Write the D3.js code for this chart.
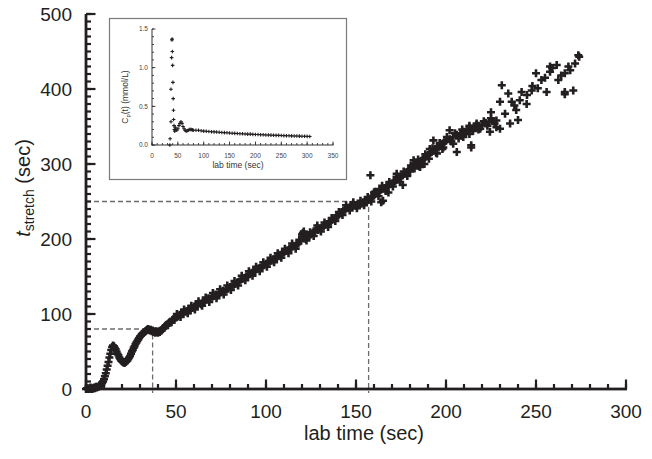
<!DOCTYPE html>
<html>
<head>
<meta charset="utf-8">
<script src="https://cdn.jsdelivr.net/npm/d3@7"></script>
<style>
body{margin:0;background:#fff;}
svg{display:block;font-family:"Liberation Sans",Arial,sans-serif;}
</style>
</head>
<body>
<svg id="chart" width="652" height="459"></svg>
<script>
// main plot: t_stretch vs lab time
const onsetPts = [
  [0,0],[0.5,1],[1,0],[1.5,1],[2,0],[2.5,2],[3,1],[3.5,0],[4,1],[4.5,2],[5,1],[5.5,3],[6,2],[6.5,3],[7,3],[7.5,5],
  [8,6],[8.5,5],[9,8],[9.5,10],[10,13],[10.5,17],[11,21],[11.5,26],[12,31],[12.5,36],[13,42],[13.5,47],[14,52],
  [14.5,56],[15,58],[15.5,57],[16,55],[16.5,53],[17,50],[17.5,47],[18,45],[18.5,42],[19,40],[19.5,38],[20,37],
  [20.5,36],[21,35],[21.5,35],[22,36],[22.5,37],[23,38],[23.5,40],[24,42],[24.5,44],[25,47],[25.5,50],[26,52],
  [26.5,55],[27,57],[27.5,60],[28,62],[28.5,64],[29,66],[29.5,68],[30,70],[30.5,71],[31,73],[31.5,74],[32,75],
  [32.5,76],[33,77],[33.5,78],[34,79],[34.5,80],[35,79],[35.5,78],[36,79],[36.5,77],[37,78],[37.5,76],[38,77],
  [38.5,75],[39,77],[39.5,76],[40,75],[40.5,77],[41,76],[41.5,78],[42,78],[42.5,80],[43,81],[43.5,82],[44,84],
  [44.5,85],[45,86],[45.5,85],[46,88],[46.5,89],[47,90],[47.5,89],[48,92],[48.5,93],[49,92],[49.5,95]
];
const linearPts = [
  [50,96],[51,97],[52,99],[53,101],[54,100],[55,103],[56,104],[57,106],[58,105],[59,108],[60,110],[61,111],
  [62,112],[63,114],[64,113],[65,116],[66,118],[67,119],[68,121],[69,120],[70,123],[71,124],[72,126],[73,125],
  [74,128],[75,129],[76,131],[77,130],[78,133],[79,134],[80,136],[81,137],[82,139],[83,140],[84,142],[85,143],
  [86,146],[87,147],[88,148],[89,150],[90,152],[91,153],[92,155],[93,156],[94,157],[95,160],[96,161],[97,162],
  [98,164],[99,165],[100,167],[101,168],[102,170],[103,171],[104,173],[105,174],[106,176],[107,177],[108,179],
  [109,180],[110,182],[111,184],[112,185],[113,187],[114,188],[115,190],[116,191],[117,193],[118,194],[119,197],
  [120,206],[121,204],[122,200],[123,203],[124,204],[125,206],[126,208],[127,210],[128,214],[129,212],[130,214],
  [131,215],[132,217],[133,219],[134,220],[135,222],[136,223],[137,226],[138,228],[139,229],[140,231],[141,234],
  [142,236],[143,238],[144,239],[145,241],[146,242],[147,243],[148,244],[149,245],[150,244],[151,245],[152,246],
  [153,247],[154,249],[155,250],[156,251],[157,252],[158,254],[159,256],[160,258],[161,261],[162,262],[163,264],
  [164,266],[165,267],[166,268],[167,270],[168,271],[169,273],[170,274],[171,276],[172,278],[173,279],[174,281],
  [175,283],[176,285],[177,287],[178,289],[179,291],[180,293],[181,296],[182,300],[183,299],[184,301],[185,297],
  [186,304],[187,306],[188,308],[189,310],[190,312],[191,314],[192,316],[193,318],[194,320],[195,322],[196,323],
  [197,325],[198,327],[199,329],[200,331],[202,333],[204,336],[206,339],[208,341],[210,343],[212,346],[214,347],
  [216,349],[218,351],[220,352],[222,355],[224,356],[226,357],[228,358]
];
// points that spread the band above and below its centre
const bandPts = [
  [50.5,100],[52.5,96],[54.5,106],[56.5,101],[58.5,111],[60.5,106],[62.5,117],[64.5,111],[66.5,122],[68.5,116],
  [70.5,128],[72.5,121],[74.5,133],[76.5,126],[78.5,138],[80.5,132],[82.5,144],[84.5,138],[86.5,151],[88.5,145],
  [90.5,157],[92.5,151],[94.5,163],[96.5,157],[98.5,169],[100.5,163],[102.5,175],[104.5,169],[106.5,181],
  [108.5,175],[110.5,187],[112.5,181],[114.5,194],[116.5,187],[118.5,199],[120.5,208],[122.5,198],[124.5,209],
  [126.5,204],[128.5,218],[130.5,210],[132.5,222],[134.5,216],[136.5,228],[138.5,224],[140.5,236],[142.5,232],
  [144.5,245],[146.5,238],[148.5,249],[150.5,241],[152.5,251],[154.5,245],[156.5,256],[158.5,250],[160.5,263],
  [162.5,257],[164.5,271],[166.5,264],[168.5,276],[170.5,270],[172.5,283],[174.5,276],[176.5,290],[178.5,284],
  [180.5,298],[182.5,294],[184.5,306],[186.5,300],[188.5,313],[190.5,307],[192.5,321],[194.5,315],[196.5,328],
  [198.5,322],[200.5,336],[203,330],[205,341],[207,334],[209,346],[211,340],[213,351],[215,344],[217,354],
  [219,347],[221,357],[223,351],[225,361],[227,354]
];
const scatterPts = [
  [121,210],[158,285],[160,262],[161.5,263],[164,249],[165,251],[168,262],[172.6,287],[176,272],[180,290],
  [182,305],[185.6,296],[188,300],[191,320],[193,331.5],[195,314],[198,320],[202,345],[204,327],[206,316],
  [209,338],[209.6,336],[213,340],[214,325],[217,352],[213,349],[214,322],[218,346],[222,354],[224.4,343],
  [225,369],[228,349],[230,347],[230,383],[231,405],[232.8,367],[234.6,394],[235.6,354],[236.5,383],[238,378],
  [239,372],[240,358.6],[241,385],[242,396],[244.8,380],[245,392],[247.6,398],[248,404],[250,421],[251,401],
  [253,412],[255,415],[255.9,396],[257.8,423],[257.8,430],[259,428],[261.5,432],[262.4,412],[264,418],[266,421],
  [268,430],[269,425],[266,393],[266,396],[270.7,398],[271.7,434],[273.5,445],[274,443]
];
// reference levels marked with dashed lines
const guideTimes = [37, 157];
const guideStretch = [80, 250];
const xTicks = [0, 50, 100, 150, 200, 250, 300];
const yTicks = [0, 100, 200, 300, 400, 500];

// inset: Cp(t) vs lab time
const cpPts = [
  [34.5,0.0],[35,0.08],[36.7,0.30],[36.6,0.72],[37.9,1.13],[38.5,1.36],[39,1.37],[39.3,1.21],[39.9,1.03],
  [40.5,0.81],[41,0.60],[41.5,0.45],[41.8,0.33],[42.6,0.25],[43.2,0.20],[44,0.18],[45,0.23],[46,0.20],[48,0.19],
  [50,0.21],[52,0.25],[54,0.28],[56,0.30],[58,0.28],[60,0.24],[62,0.21],[64,0.19],[66,0.18],[68,0.185],[70,0.19],
  [72,0.20],[74,0.20],[76,0.20],[78,0.195],[80,0.19],[85,0.19],[90,0.19],[95,0.185],[100,0.18],[105,0.178],
  [110,0.175],[115,0.172],[120,0.17],[125,0.168],[130,0.165],[135,0.162],[140,0.16],[145,0.158],[150,0.155],
  [155,0.152],[160,0.15],[165,0.148],[170,0.146],[175,0.145],[180,0.143],[185,0.141],[190,0.14],[195,0.138],
  [200,0.136],[205,0.135],[210,0.133],[215,0.132],[220,0.13],[225,0.129],[230,0.128],[235,0.126],[240,0.125],
  [245,0.124],[250,0.122],[255,0.121],[260,0.12],[265,0.119],[270,0.118],[275,0.117],[280,0.116],[285,0.115],
  [290,0.114],[295,0.113],[300,0.112],[305,0.11]
];
const insetXTicks = [0, 50, 100, 150, 200, 250, 300, 350];
const insetYTicks = [0, 0.5, 1.0, 1.5];

const svg = d3.select('#chart');
const ink = '#231f20';
const insetInk = '#333';

const x = d3.scaleLinear().domain([0, 300]).range([86, 626]);
const y = d3.scaleLinear().domain([0, 500]).range([389, 14]);
const ix = d3.scaleLinear().domain([0, 350]).range([152, 333]);
const iy = d3.scaleLinear().domain([0, 1.5]).range([145, 29]);

// dashed guides
guideTimes.forEach((t, i) => {
  svg.append('path')
    .attr('d', `M${x(0)},${y(guideStretch[i])}H${x(t)}V${y(0) + 4}`)
    .attr('fill', 'none')
    .attr('stroke', '#6d6d6d')
    .attr('stroke-width', 1.3)
    .attr('stroke-dasharray', '5,3');
});

// axis ticks as small filled rects (inward-pointing)
function tickRects(xs, ys, o) {
  const x0 = xs.range()[0], y0 = ys.range()[0], w = o.w;
  const r = [];
  xs.ticks(o.xMinor).forEach(v => r.push([xs(v) - w / 2, y0 - o.minor, w, o.minor]));
  o.xMajor.forEach(v => r.push([xs(v) - w / 2, y0 - o.major, w, o.major]));
  ys.ticks(o.yMinor).forEach(v => r.push([x0, ys(v) - w / 2, o.minor, w]));
  o.yMajor.forEach(v => r.push([x0, ys(v) - w / 2, o.major, w]));
  svg.append('g').selectAll('rect').data(r).join('rect')
    .attr('x', d => d[0]).attr('y', d => d[1])
    .attr('width', d => d[2]).attr('height', d => d[3])
    .attr('fill', o.color);
}

tickRects(x, y, { w: 2.2, minor: 5, major: 9.5, xMinor: 30, yMinor: 50,
  xMajor: xTicks, yMajor: yTicks, color: ink });

// main axis lines
svg.append('rect').attr('x', x(0) - 1.4).attr('y', y(500)).attr('width', 2.8).attr('height', y(0) - y(500) + 1.4).attr('fill', ink);
svg.append('rect').attr('x', x(0) - 1.4).attr('y', y(0) - 1.4).attr('width', x(300) - x(0) + 2.4).attr('height', 2.8).attr('fill', ink);

// data markers
svg.append('g')
  .selectAll('path')
  .data(onsetPts.concat(linearPts, bandPts, scatterPts))
  .join('path')
  .attr('transform', p => `translate(${x(p[0])},${y(p[1])})`)
  .attr('d', 'M-4,0H4M0,-4V4')
  .attr('stroke', ink)
  .attr('stroke-width', 2.6);

// tick labels and titles, main plot
svg.append('g').selectAll('text').data(xTicks).join('text')
  .attr('x', v => x(v)).attr('y', y(0) + 29)
  .attr('text-anchor', 'middle')
  .attr('font-size', 19).attr('fill', ink)
  .text(v => v);
svg.append('g').selectAll('text').data(yTicks).join('text')
  .attr('x', x(0) - 14).attr('y', v => y(v))
  .attr('dy', '0.35em')
  .attr('text-anchor', 'end')
  .attr('font-size', 19).attr('fill', ink)
  .text(v => v);

svg.append('text')
  .attr('x', 364).attr('y', 440)
  .attr('text-anchor', 'middle')
  .attr('font-size', 20).attr('fill', ink)
  .text('lab time (sec)');

const yTitle = svg.append('text')
  .attr('transform', 'translate(30,188) rotate(-90)')
  .attr('text-anchor', 'middle')
  .attr('font-size', 20).attr('fill', ink);
yTitle.append('tspan').attr('font-style', 'italic').text('t');
yTitle.append('tspan').attr('font-size', 14).attr('dy', 4).text('stretch');
yTitle.append('tspan').attr('dy', -4).text(' (sec)');

// inset panel
svg.append('rect')
  .attr('x', 109.5).attr('y', 18.5).attr('width', 237).attr('height', 161)
  .attr('fill', '#fff').attr('stroke', '#7a7a7a').attr('stroke-width', 1.2);

tickRects(ix, iy, { w: 0.9, minor: 2, major: 3.5, xMinor: 35, yMinor: 15,
  xMajor: insetXTicks, yMajor: insetYTicks, color: insetInk });
svg.append('rect').attr('x', ix(0) - 0.5).attr('y', iy(1.5)).attr('width', 1).attr('height', iy(0) - iy(1.5) + 0.5).attr('fill', insetInk);
svg.append('rect').attr('x', ix(0) - 0.5).attr('y', iy(0) - 0.5).attr('width', ix(350) - ix(0) + 1).attr('height', 1).attr('fill', insetInk);

svg.append('g')
  .selectAll('path')
  .data(cpPts)
  .join('path')
  .attr('transform', p => `translate(${ix(p[0])},${iy(p[1])})`)
  .attr('d', 'M-1.8,0H1.8M0,-1.8V1.8')
  .attr('stroke', ink)
  .attr('stroke-width', 1.1);

svg.append('g').selectAll('text').data(insetXTicks).join('text')
  .attr('x', v => ix(v)).attr('y', iy(0) + 12.5)
  .attr('text-anchor', 'middle')
  .attr('font-size', 6.5).attr('fill', '#444')
  .text(v => v);
svg.append('g').selectAll('text').data(insetYTicks).join('text')
  .attr('x', ix(0) - 4).attr('y', v => iy(v))
  .attr('dy', '0.35em')
  .attr('text-anchor', 'end')
  .attr('font-size', 6.5).attr('fill', '#444')
  .text(d3.format('.1f'));

svg.append('text')
  .attr('x', 238).attr('y', 168)
  .attr('text-anchor', 'middle')
  .attr('font-size', 8.5).attr('fill', insetInk)
  .text('lab time (sec)');

const cpTitle = svg.append('text')
  .attr('transform', 'translate(128,97) rotate(-90)')
  .attr('text-anchor', 'middle')
  .attr('font-size', 8.5).attr('fill', insetInk);
cpTitle.append('tspan').text('C');
cpTitle.append('tspan').attr('font-size', 6).attr('dy', 2).text('p');
cpTitle.append('tspan').attr('dy', -2).text('(t) (mmol/L)');
</script>
</body>
</html>
